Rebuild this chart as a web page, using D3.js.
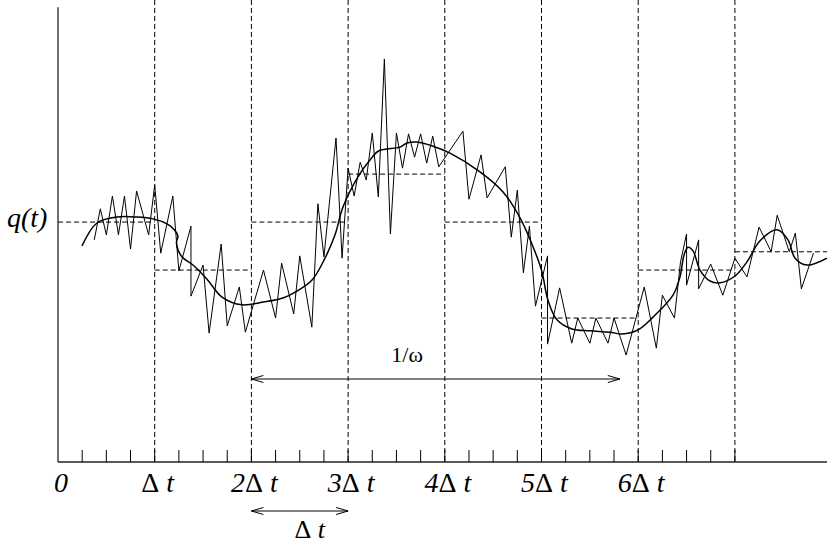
<!DOCTYPE html>
<html>
<head>
<meta charset="utf-8">
<script src="https://cdn.jsdelivr.net/npm/d3@7"></script>
<style>
body { margin: 0; background: #fff; }
svg { display: block; font-family: "Liberation Serif", "Times New Roman", serif; }
</style>
</head>
<body>
<svg id="chart" width="827" height="546"></svg>
<script>
// time is in units of Δt, q in arbitrary units (0 = time axis)
var tickLabels = ["0", "Δ t", "2Δ t", "3Δ t", "4Δ t", "5Δ t", "6Δ t"];
var gridTimes = [1, 2, 3, 4, 5, 6, 7];
var stepStarts = [0, 1, 2, 3, 4, 5, 6, 7];
var stepMeans = [52.5, 42.0, 52.5, 63.0, 52.5, 31.5, 42.0, 46.0];

// raw signal: sample index (1 sample = Δt/16) and value
var noiseIdx = [6, 7, 8, 9, 10, 11, 12, 13, 15, 16,
	17, 19, 20, 22, 22, 24, 25, 27, 28, 30,
	31, 34, 36, 37, 39, 40, 42, 43, 44, 46,
	47, 48, 49, 50, 51, 52, 53, 54, 55, 56,
	57, 58, 59, 60, 61, 62, 63, 67, 68, 70,
	71, 74, 75, 76, 77, 78, 79, 81, 81, 83,
	85, 86, 88, 89, 91, 92, 94, 97, 99, 100,
	102, 103, 104, 104, 106, 106, 108, 110, 112, 114,
	116, 118, 119, 121, 122, 123, 125];
var noiseQ = [48.6, 55.4, 49.7, 58.2, 49.7, 58.2, 46.6, 59.3, 49.7, 60.6,
	45.7, 58.2, 41.8, 51.6, 36.3, 43.1, 28.2, 47.7, 29.8, 38.3,
	28.4, 42.0, 31.5, 43.5, 32.4, 45.1, 29.5, 56.5, 44.9, 70.9,
	44.6, 64.3, 58.2, 65.6, 61.7, 72.0, 58.0, 88.2, 49.9, 72.0,
	64.3, 71.8, 66.7, 71.8, 65.4, 71.3, 64.6, 72.4, 57.5, 67.2,
	57.8, 64.6, 49.2, 59.5, 41.4, 51.6, 34.1, 45.1, 25.8, 38.1,
	26.0, 31.5, 26.0, 31.5, 26.0, 31.5, 23.4, 38.3, 24.9, 36.5,
	31.5, 43.8, 49.9, 38.7, 48.6, 37.9, 43.3, 36.5, 44.6, 40.5,
	51.4, 46.0, 54.0, 46.0, 50.1, 37.9, 45.7];

// smoothed signal q(t)
var smoothT = [0.248, 0.403, 0.610, 0.817, 0.982, 1.127, 1.200, 1.240, 1.225, 1.282,
	1.396, 1.541, 1.696, 1.903, 2.120, 2.327, 2.472, 2.627, 2.761, 2.865,
	2.947, 3.102, 3.226, 3.320, 3.537, 3.609, 3.713, 3.878, 4.054, 4.364,
	4.602, 4.778, 4.933, 5.005, 5.067, 5.160, 5.315, 5.502, 5.708, 5.832,
	5.998, 6.153, 6.360, 6.432, 6.474, 6.515, 6.567, 6.639, 6.743, 6.846,
	7.001, 7.125, 7.260, 7.435, 7.549, 7.622, 7.746, 7.952];
var smoothQ = [47.3, 52.3, 53.6, 53.6, 53.2, 52.1, 50.9, 49.5, 47.9, 44.9,
	43.1, 40.0, 36.1, 34.4, 35.0, 35.9, 37.4, 39.8, 44.6, 49.7,
	55.8, 62.4, 66.1, 68.1, 68.9, 69.8, 70.0, 69.1, 67.6, 63.5,
	59.1, 53.4, 46.0, 41.6, 35.4, 31.1, 29.1, 28.7, 28.4, 28.0,
	28.9, 31.7, 36.5, 40.5, 45.3, 47.0, 46.2, 42.0, 39.6, 39.2,
	40.7, 43.8, 48.4, 50.8, 48.6, 44.6, 43.1, 44.6];

var omegaSpan = [2, 5.81];
var dtSpan = [2, 3];

function drawChart() {
	var svg = d3.select("#chart");
	var width = +svg.attr("width");

	var x = d3.scaleLinear().domain([0, 8]).range([58, 831.6]);
	var y = d3.scaleLinear().domain([0, 100]).range([462, 5]);
	var baseY = y(0);

	// vertical dashed lines at multiples of Δt
	svg.selectAll(".grid")
		.data(gridTimes)
	.enter().append("line")
		.attr("class", "grid")
		.attr("x1", (d) => x(d))
		.attr("x2", (d) => x(d))
		.attr("y1", 0)
		.attr("y2", baseY)
		.style("stroke", "#000")
		.style("stroke-width", 1)
		.style("stroke-dasharray", "5,3");

	// interval means
	svg.selectAll(".step")
		.data(stepStarts)
	.enter().append("line")
		.attr("class", "step")
		.attr("x1", (d) => x(d))
		.attr("x2", (d) => Math.min(x(d + 1), width))
		.attr("y1", (d, i) => y(stepMeans[i]))
		.attr("y2", (d, i) => y(stepMeans[i]))
		.style("stroke", "#000")
		.style("stroke-width", 1)
		.style("stroke-dasharray", "5,3");

	// axes
	svg.append("line")
		.attr("x1", x(0)).attr("x2", x(0))
		.attr("y1", y(99.5)).attr("y2", baseY)
		.style("stroke", "#222").style("stroke-width", 1.3);
	svg.append("line")
		.attr("x1", x(0)).attr("x2", width)
		.attr("y1", baseY).attr("y2", baseY)
		.style("stroke", "#222").style("stroke-width", 1.3);

	// quarter ticks
	var ticks = d3.range(1, 29).map((i) => i / 4);
	svg.selectAll(".tick")
		.data(ticks)
	.enter().append("line")
		.attr("class", "tick")
		.attr("x1", (d) => x(d))
		.attr("x2", (d) => x(d))
		.attr("y1", baseY - 12)
		.attr("y2", baseY)
		.style("stroke", "#000")
		.style("stroke-width", 1);

	// tick labels, Δ upright and the rest italic
	var labels = svg.selectAll(".tlabel")
		.data(tickLabels)
	.enter().append("text")
		.attr("class", "tlabel")
		.attr("x", (d, i) => x(i) + 3)
		.attr("y", 492)
		.attr("text-anchor", "middle")
		.style("font-size", "28px");
	labels.each(function(d) {
		var t = d3.select(this);
		var parts = d.split("Δ");
		t.append("tspan").style("font-style", "italic").text(parts[0]);
		if (parts.length > 1) {
			t.append("tspan").text("Δ");
			t.append("tspan").style("font-style", "italic").text(parts[1]);
		}
	});

	// raw noisy signal
	var noiseLine = d3.line()
		.x((d) => x(d / 16))
		.y((d, i) => y(noiseQ[i]));
	svg.append("path")
		.attr("d", noiseLine(noiseIdx))
		.style("fill", "none")
		.style("stroke", "#000")
		.style("stroke-width", 1);

	// smoothed signal
	var smoothLine = d3.line()
		.x((d) => x(d))
		.y((d, i) => y(smoothQ[i]))
		.curve(d3.curveCatmullRom.alpha(0.5));
	svg.append("path")
		.attr("d", smoothLine(smoothT))
		.style("fill", "none")
		.style("stroke", "#000")
		.style("stroke-width", 1.5);

	// y label
	svg.append("text")
		.attr("x", 7)
		.attr("y", 227)
		.style("font-size", "28px")
		.style("font-style", "italic")
		.text("q(t)");

	function arrow(x1, x2, yy) {
		var g = svg.append("g")
			.style("fill", "none")
			.style("stroke", "#000")
			.style("stroke-width", 1);
		g.append("line").attr("x1", x1).attr("x2", x2).attr("y1", yy).attr("y2", yy);
		g.append("path").attr("d", "M" + (x1 + 12) + "," + (yy - 3.5) + "L" + x1 + "," + yy + "L" + (x1 + 12) + "," + (yy + 3.5));
		g.append("path").attr("d", "M" + (x2 - 12) + "," + (yy - 3.5) + "L" + x2 + "," + yy + "L" + (x2 - 12) + "," + (yy + 3.5));
	}

	// 1/ω span
	arrow(x(omegaSpan[0]), x(omegaSpan[1]), 379);
	svg.append("text")
		.attr("x", x(3.61))
		.attr("y", 362)
		.attr("text-anchor", "middle")
		.style("font-size", "22px")
		.text("1/ω");

	// Δt span
	arrow(x(dtSpan[0]), x(dtSpan[1]), 511);
	var dl = svg.append("text")
		.attr("x", x(2.5) + 10)
		.attr("y", 538)
		.attr("text-anchor", "middle")
		.style("font-size", "26px");
	dl.append("tspan").text("Δ");
	dl.append("tspan").style("font-style", "italic").text(" t");
}

drawChart();
</script>
</body>
</html>
